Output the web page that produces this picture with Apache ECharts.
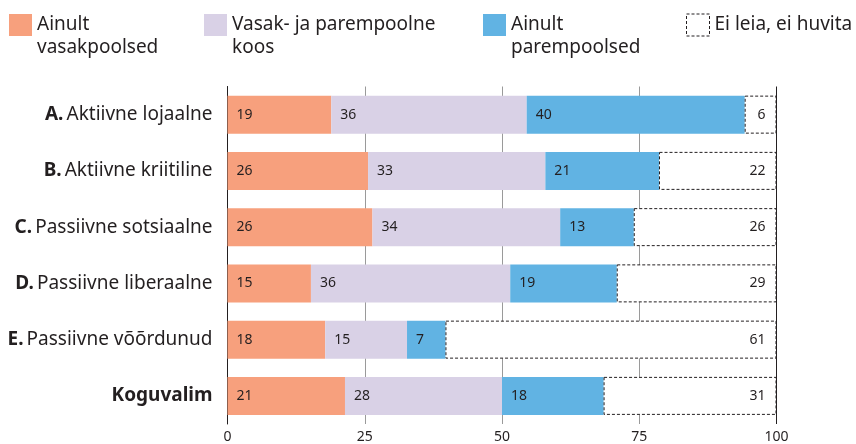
<!DOCTYPE html>
<html>
<head>
<meta charset="utf-8">
<script src="https://cdn.jsdelivr.net/npm/echarts@6/dist/echarts.min.js"></script>
<style>
  html, body { margin: 0; padding: 0; background: #fff; }
  #chart { width: 856px; height: 444px; }
</style>
</head>
<body>
<div id="chart"></div>
<script>
// kategooriad ja osakaalud (ribade pikkused loetud pildilt, sildid nagu trükitud)
var categories = ['A. Aktiivne lojaalne', 'B. Aktiivne kriitiline', 'C. Passiivne sotsiaalne',
                  'D. Passiivne liberaalne', 'E. Passiivne võõrdunud', 'Koguvalim'];
var seriesNames = ['Ainult\nvasakpoolsed', 'Vasak- ja parempoolne\nkoos', 'Ainult\nparempoolsed', 'Ei leia, ei huvita'];

var leftOnly  = [18.9, 25.6, 26.4, 15.2, 17.8, 21.4];
var both      = [35.6, 32.3, 34.2, 36.3, 14.9, 28.6];
var rightOnly = [39.7, 20.7, 13.4, 19.4, 7.0, 18.5];
var noneOf    = [5.8, 21.4, 26.0, 29.1, 60.3, 31.5];

var leftOnlyLabels  = [19, 26, 26, 15, 18, 21];
var bothLabels      = [36, 33, 34, 36, 15, 28];
var rightOnlyLabels = [40, 21, 13, 19, 7, 18];
var noneOfLabels    = [6, 22, 26, 29, 61, 31];

var xTicks = [0, 25, 50, 75, 100];

var ink = '#231f20';
var font = 'Noto Sans';

var myChart = echarts.init(document.getElementById('chart'));

function barSeries(name, data, labels, color, last) {
    return {
        name: name,
        type: 'bar',
        stack: 'total',
        barWidth: 38,
        data: data,
        itemStyle: last ? {
            color: '#fff',
            borderColor: ink,
            borderWidth: 1,
            borderType: [3, 2]
        } : { color: color },
        label: {
            show: true,
            position: last ? 'insideRight' : 'insideLeft',
            distance: last ? 11 : 9,
            color: ink,
            fontFamily: font,
            fontSize: 14,
            formatter: function (p) { return labels[p.dataIndex]; }
        },
        emphasis: { disabled: true }
    };
}

// tühi esimene rida, et ruut jääks esimese tekstirea kõrgusele
function legendAt(name, left, top, twoLines, dashed) {
    return {
        data: [name],
        left: left,
        top: top,
        padding: 0,
        itemWidth: 23,
        itemHeight: 22,
        itemGap: 0,
        icon: 'rect',
        selectedMode: false,
        itemStyle: dashed ? { borderWidth: 1, borderType: [3, 2], borderColor: ink } : { borderWidth: 0 },
        formatter: function (n) {
            if (!twoLines) return '{t|' + n + '}';
            return '{e| }\n' + n.split('\n').map(function (s) { return '{t|' + s + '}'; }).join('\n');
        },
        textStyle: {
            rich: {
                t: { color: ink, fontFamily: font, fontSize: 19, lineHeight: 23 },
                e: { fontSize: 19, lineHeight: 23 }
            }
        }
    };
}

var option = {
    animation: false,
    textStyle: { fontFamily: font },
    legend: [
        legendAt(seriesNames[0], 9, -7.5, true, false),
        legendAt(seriesNames[1], 204, -7.5, true, false),
        legendAt(seriesNames[2], 483, -7.5, true, false),
        legendAt(seriesNames[3], 686, 13.5, false, true)
    ],
    grid: { left: 227.5, right: 79.5, top: 86.5, bottom: 18 },
    xAxis: {
        type: 'value',
        min: 0,
        max: 100,
        interval: 25,
        axisLine: { show: false },
        axisTick: { show: false },
        axisLabel: {
            color: ink,
            fontFamily: font,
            fontSize: 14,
            margin: 6,
            formatter: function (v) { return xTicks.indexOf(v) >= 0 ? String(v) : ''; }
        },
        splitLine: {
            show: true,
            lineStyle: { color: [ink, '#9a9a9a', '#9a9a9a', '#9a9a9a', ink], width: 1 }
        }
    },
    yAxis: {
        type: 'category',
        data: categories,
        inverse: true,
        axisLine: { show: true, lineStyle: { color: ink, width: 1 } },
        axisTick: { show: false },
        axisLabel: {
            margin: 15,
            formatter: function (v) {
                var m = v.match(/^([A-Z]\.)\s(.*)$/);
                if (m) return '{b|' + m[1] + '} {n|' + m[2] + '}';
                return '{b|' + v + '}';
            },
            rich: {
                b: { fontFamily: font, fontSize: 19, fontWeight: 'bold', color: ink },
                n: { fontFamily: font, fontSize: 19, color: ink }
            }
        }
    },
    series: [
        barSeries(seriesNames[0], leftOnly, leftOnlyLabels, '#f7a07d', false),
        barSeries(seriesNames[1], both, bothLabels, '#d9d1e6', false),
        barSeries(seriesNames[2], rightOnly, rightOnlyLabels, '#61b3e3', false),
        barSeries(seriesNames[3], noneOf, noneOfLabels, '#fff', true)
    ]
};

myChart.setOption(option);
</script>
</body>
</html>
